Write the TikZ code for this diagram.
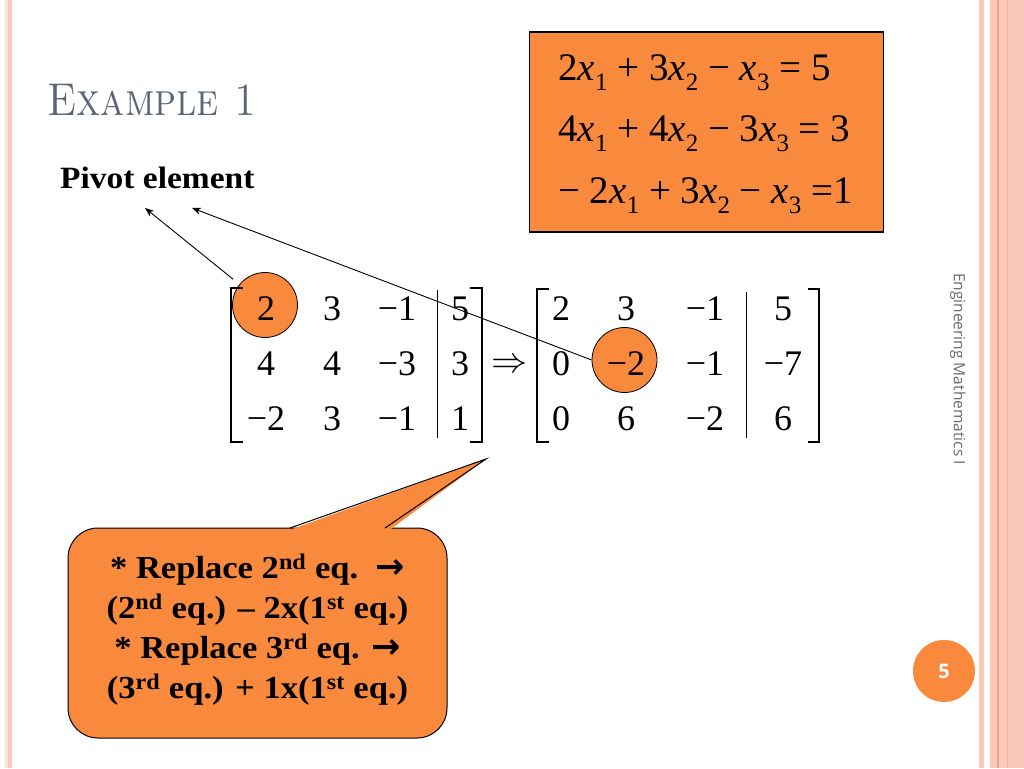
\documentclass[tikz,border=0pt]{standalone}
\usepackage{fontspec}
\usepackage{graphicx}
\usetikzlibrary{arrows.meta}
\newfontfamily\slidefont{Liberation Serif}
\newfontfamily\goudyfont[FakeStretch=1.08]{Liberation Serif}
\newfontfamily\sidefont{Open Sans}
\newfontfamily\boldarrowfont{DejaVu Sans}
\definecolor{slideorange}{RGB}{249,137,60}
\definecolor{stripe}{RGB}{251,201,185}
\definecolor{stripelight}{RGB}{252,228,216}
\definecolor{stripeline}{RGB}{238,164,138}
\definecolor{titlegray}{RGB}{92,100,120}
\newcommand{\xv}[1]{\textit{x}\raisebox{-0.27em}{\fontsize{25}{25}\selectfont #1}}
\newcommand{\arr}{{\boldarrowfont\bfseries\fontsize{35}{35}\selectfont →}}
\begin{document}
\begin{tikzpicture}[x=1pt,y=-1pt, >={Stealth[length=9pt,width=7pt]},
      entry/.style={anchor=base,inner sep=0,font=\slidefont\fontsize{36}{36}\selectfont},
      eqtext/.style={anchor=base west,inner sep=0,font=\slidefont\fontsize{39}{39}\selectfont},
      pivotdot/.style={circle,fill=slideorange,draw=black,line width=0.8pt,minimum size=65pt,inner sep=0},
      brk/.style={line width=1.4pt},
      lead/.style={->,line width=0.9pt} ]
      \useasboundingbox (0,0) rectangle (1024,768);

      % stripes
      \fill[stripelight] (5,0) rectangle (8,768);
      \fill[stripe] (8,0) rectangle (12,768);
      \fill[stripe] (979,0) rectangle (984,768);
      \fill[stripe] (990,0) rectangle (1024,768);
      \draw[stripeline,line width=1.2pt] (998,0) -- (998,768);
      \draw[stripeline!60!stripe,line width=1pt] (1007.5,0) -- (1007.5,768);

      % title
      \node[anchor=base west,inner sep=0,text=titlegray,font=\fontsize{46}{46}\selectfont] (title) at (47,115) {\scalebox{0.86}[1]{\textsc{Example 1}}};

      % system
      \node[draw=black,line width=1.3pt,fill=slideorange,minimum width=354pt,minimum height=200pt] (sys) at (706.5,132) {};
      \node[eqtext] (eq1) at (558,80) {2\xv{1} + 3\xv{2} − \xv{3} = 5};
      \node[eqtext] (eq2) at (558,141) {4\xv{1} + 4\xv{2} − 3\xv{3} = 3};
      \node[eqtext] (eq3) at (558,203) {− 2\xv{1} + 3\xv{2} − \xv{3} =1};

      % pivots
      \node[pivotdot] (piv1) at (265,305) {};
      \node[pivotdot] (piv2) at (624.5,360) {};

      % brackets
      \draw[brk] (243,288) -- (231,288) -- (231,442) -- (243,442);
      \draw[brk] (470,288) -- (482,288) -- (482,442) -- (470,442);
      \draw[line width=1pt] (437,290) -- (437,438);
      \draw[brk] (549,289) -- (537,289) -- (537,442) -- (549,442);
      \draw[brk] (808,289) -- (819,289) -- (819,442) -- (808,442);
      \draw[line width=1pt] (746,292) -- (746,438);

      % left matrix
      \node[entry] (a11) at (266,320) {2};
      \node[entry] (a12) at (332,320) {3};
      \node[entry] (a13) at (397,320) {−1};
      \node[entry] (a14) at (460,320) {5};
      \node[entry] (a21) at (266,375) {4};
      \node[entry] (a22) at (332,375) {4};
      \node[entry] (a23) at (397,375) {−3};
      \node[entry] (a24) at (460,375) {3};
      \node[entry] (a31) at (266,430) {−2};
      \node[entry] (a32) at (332,430) {3};
      \node[entry] (a33) at (397,430) {−1};
      \node[entry] (a34) at (460,430) {1};

      \node[inner sep=0] (to) at (510,366) {\scalebox{1.45}{\fontsize{24.88}{24.88}\selectfont$\Rightarrow$}};

      % right matrix
      \node[entry] (b11) at (561,320) {2};
      \node[entry] (b12) at (626,320) {3};
      \node[entry] (b13) at (705,320) {−1};
      \node[entry] (b14) at (783,320) {5};
      \node[entry] (b21) at (561,375) {0};
      \node[entry] (b22) at (626,375) {−2};
      \node[entry] (b23) at (705,375) {−1};
      \node[entry] (b24) at (783,375) {−7};
      \node[entry] (b31) at (561,430) {0};
      \node[entry] (b32) at (626,430) {6};
      \node[entry] (b33) at (705,430) {−2};
      \node[entry] (b34) at (783,430) {6};

      % pivot label
      \node[anchor=base west,inner sep=0,font=\goudyfont\bfseries\fontsize{31}{31}\selectfont] (pivot) at (60,188) {Pivot element};
      \coordinate (tipA) at (145,208);
      \coordinate (tipB) at (192,208);
      \draw[lead,shorten <=8pt] (piv1) -- (tipA);
      \draw[lead] (piv2.west) -- (tipB);

      % callout
      \node[draw=black,line width=1pt,fill=slideorange,rounded corners=30pt,minimum width=379pt,minimum height=210pt] (note) at (257.5,633) {};
      \coordinate (noteL) at (290,528);
      \coordinate (noteR) at (385,528);
      \coordinate (noteTip) at (486,459);
      \fill[slideorange] (287,531) -- (noteTip) -- (388,531) -- cycle;
      \draw[line width=1pt] (noteL) -- (noteTip) -- (noteR);
      \node[align=center,inner sep=0,font=\goudyfont\bfseries\fontsize{32}{40}\selectfont] (notetext) at (257.5,630)
        {* Replace 2\textsuperscript{nd} eq.\ \ \arr\\
         (2\textsuperscript{nd} eq.) – 2x(1\textsuperscript{st} eq.)\\
         * Replace 3\textsuperscript{rd} eq. \arr\\
         (3\textsuperscript{rd} eq.) + 1x(1\textsuperscript{st} eq.)};

      % footer
      \node[circle,fill=slideorange,minimum size=62pt,inner sep=0,text=white,font=\sidefont\bfseries\fontsize{20}{20}\selectfont] (page) at (944,671) {5};
      \node[rotate=-90,inner sep=0,text=black!58,font=\sidefont\fontsize{15.5}{15.5}\selectfont] (course) at (958,369) {Engineering Mathematics I};
    \end{tikzpicture}
\end{document}
